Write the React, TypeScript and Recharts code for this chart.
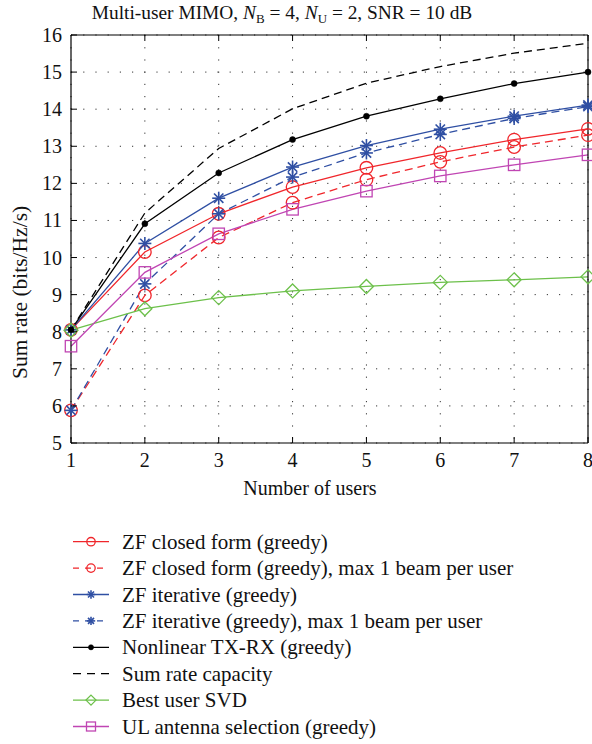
import React from "react";
import {
  LineChart,
  Line,
  XAxis,
  YAxis,
  CartesianGrid,
  Legend,
  Label,
} from "recharts";

// Number of users on the horizontal axis
const users = [1, 2, 3, 4, 5, 6, 7, 8];

// Sum rate (bits/Hz/s) per scheme
const zfClosed = [8.05, 10.15, 11.18, 11.9, 12.42, 12.82, 13.18, 13.47];
const zfClosedMax1 = [5.88, 8.98, 10.54, 11.48, 12.1, 12.58, 12.98, 13.3];
const zfIterative = [8.05, 10.38, 11.6, 12.44, 13.02, 13.46, 13.81, 14.11];
const zfIterativeMax1 = [5.88, 9.29, 11.18, 12.17, 12.82, 13.32, 13.75, 14.07];
const nonlinearTxRx = [8.05, 10.91, 12.28, 13.18, 13.81, 14.28, 14.69, 15.0];
const sumRateCapacity = [8.05, 11.2, 12.94, 14.01, 14.7, 15.15, 15.51, 15.78];
const bestUserSvd = [8.04, 8.62, 8.92, 9.1, 9.22, 9.33, 9.4, 9.48];
const ulAntennaSel = [7.61, 9.6, 10.64, 11.3, 11.79, 12.2, 12.5, 12.77];

const xTicks = [1, 2, 3, 4, 5, 6, 7, 8];
const yTicks = [5, 6, 7, 8, 9, 10, 11, 12, 13, 14, 15, 16];

const FONT = "'Liberation Serif', 'DejaVu Serif', serif";
const RED = "#f0262b";
const BLUE = "#2f4fa3";
const BLACK = "#000000";
const GREEN = "#6cc04a";
const MAGENTA = "#c045b3";

type MarkerKind = "circle" | "star" | "dot" | "none" | "diamond" | "square";

type SeriesDef = {
  key: string;
  name: string;
  values: number[];
  color: string;
  dashed: boolean;
  marker: MarkerKind;
};

const series: SeriesDef[] = [
  { key: "zfc", name: "ZF closed form (greedy)", values: zfClosed, color: RED, dashed: false, marker: "circle" },
  { key: "zfc1", name: "ZF closed form (greedy), max 1 beam per user", values: zfClosedMax1, color: RED, dashed: true, marker: "circle" },
  { key: "zfi", name: "ZF iterative (greedy)", values: zfIterative, color: BLUE, dashed: false, marker: "star" },
  { key: "zfi1", name: "ZF iterative (greedy), max 1 beam per user", values: zfIterativeMax1, color: BLUE, dashed: true, marker: "star" },
  { key: "nl", name: "Nonlinear TX-RX (greedy)", values: nonlinearTxRx, color: BLACK, dashed: false, marker: "dot" },
  { key: "cap", name: "Sum rate capacity", values: sumRateCapacity, color: BLACK, dashed: true, marker: "none" },
  { key: "svd", name: "Best user SVD", values: bestUserSvd, color: GREEN, dashed: false, marker: "diamond" },
  { key: "ul", name: "UL antenna selection (greedy)", values: ulAntennaSel, color: MAGENTA, dashed: false, marker: "square" },
];

const data = users.map((u, i) => {
  const row: Record<string, number> = { users: u };
  series.forEach((s) => {
    row[s.key] = s.values[i];
  });
  return row;
});

function Marker({ kind, cx, cy, color, size }: { kind: MarkerKind; cx: number; cy: number; color: string; size: number }) {
  const sw = 1.3;
  switch (kind) {
    case "circle":
      return <circle cx={cx} cy={cy} r={size} fill="none" stroke={color} strokeWidth={sw} />;
    case "star": {
      const d = size * 0.72;
      return (
        <g stroke={color} strokeWidth={1.6}>
          <line x1={cx - size} y1={cy} x2={cx + size} y2={cy} />
          <line x1={cx} y1={cy - size} x2={cx} y2={cy + size} />
          <line x1={cx - d} y1={cy - d} x2={cx + d} y2={cy + d} />
          <line x1={cx - d} y1={cy + d} x2={cx + d} y2={cy - d} />
        </g>
      );
    }
    case "dot":
      return <circle cx={cx} cy={cy} r={size} fill={color} stroke={color} strokeWidth={0.5} />;
    case "diamond":
      return (
        <polygon
          points={`${cx},${cy - size} ${cx + size},${cy} ${cx},${cy + size} ${cx - size},${cy}`}
          fill="none"
          stroke={color}
          strokeWidth={sw}
        />
      );
    case "square":
      return <rect x={cx - size} y={cy - size} width={size * 2} height={size * 2} fill="none" stroke={color} strokeWidth={sw} />;
    default:
      return null;
  }
}

const plotMarkerSize: Record<MarkerKind, number> = {
  circle: 6.3,
  star: 6.5,
  dot: 3,
  none: 0,
  diamond: 7,
  square: 5.7,
};

const legendMarkerSize: Record<MarkerKind, number> = {
  circle: 4.2,
  star: 4.2,
  dot: 2.6,
  none: 0,
  diamond: 5,
  square: 4.5,
};

function makeDot(s: SeriesDef) {
  if (s.marker === "none") return false;
  return (props: any) => {
    const { cx, cy, index } = props;
    return (
      <g key={`${s.key}-${index}`}>
        <Marker kind={s.marker} cx={cx} cy={cy} color={s.color} size={plotMarkerSize[s.marker]} />
      </g>
    );
  };
}

const tickStyle: React.CSSProperties = { fontFamily: FONT, fontSize: 20, fill: "#111" };
const yTitleStyle: React.CSSProperties = { fontFamily: FONT, fontSize: 21.5, fill: "#111" };
const legendStyle: React.CSSProperties = { fontFamily: FONT, fontSize: 21, fill: "#111" };

const BottomTick = (p: any) => (
  <g>
    <line x1={p.x} y1={p.y} x2={p.x} y2={p.y - 6} stroke="#000" strokeWidth={1} />
    <text x={p.x} y={p.y + 24} textAnchor="middle" style={tickStyle}>
      {p.payload.value}
    </text>
  </g>
);

const TopTick = (p: any) => (
  <line x1={p.x} y1={p.y} x2={p.x} y2={p.y + 6} stroke="#000" strokeWidth={1} />
);

const LeftTick = (p: any) => (
  <g>
    <line x1={p.x} y1={p.y} x2={p.x + 6} y2={p.y} stroke="#000" strokeWidth={1} />
    <text x={p.x - 9} y={p.y} textAnchor="end" dominantBaseline="central" style={tickStyle}>
      {p.payload.value}
    </text>
  </g>
);

const RightTick = (p: any) => (
  <line x1={p.x} y1={p.y} x2={p.x - 6} y2={p.y} stroke="#000" strokeWidth={1} />
);

const XTitle = () => (
  <text x={310} y={495} textAnchor="middle" style={tickStyle}>
    Number of users
  </text>
);

// rotated axis title, starting at the bottom and reading upwards
const YTitle = () => (
  <text x={27} y={379} textAnchor="start" transform="rotate(-90 27 379)" style={yTitleStyle}>
    Sum rate (bits/Hz/s)
  </text>
);

const LegendBox = () => (
  <svg width={592} height={216} style={{ display: "block" }}>
    {series.map((s, i) => {
      const y = 13.7 + i * 26.4;
      return (
        <g key={s.key}>
          <line
            x1={73}
            x2={109}
            y1={y}
            y2={y}
            stroke={s.color}
            strokeWidth={1.3}
            strokeDasharray={s.dashed ? (s.marker === "none" ? "8 6" : "6 6") : undefined}
          />
          <Marker kind={s.marker} cx={91} cy={y} color={s.color} size={legendMarkerSize[s.marker]} />
          <text x={122} y={y} dominantBaseline="central" style={legendStyle}>
            {s.name}
          </text>
        </g>
      );
    })}
  </svg>
);

const subStyle: React.CSSProperties = { fontSize: 13, position: "relative", top: 4 };

export default function App() {
  return (
    <div style={{ position: "absolute", left: 0, top: 0, width: 592, height: 744, background: "#fff" }}>
      <div
        style={{
          position: "absolute",
          left: 0,
          top: 0,
          width: 564,
          height: 26,
          lineHeight: "26px",
          textAlign: "center",
          fontFamily: FONT,
          fontSize: 19.4,
          color: "#111",
          whiteSpace: "nowrap",
        }}
      >
        Multi-user MIMO, <i>N</i>
        <span style={subStyle}>B</span> = 4, <i>N</i>
        <span style={subStyle}>U</span> = 2, SNR = 10 dB
      </div>
      <LineChart
        width={592}
        height={744}
        data={data}
        margin={{ top: 34, right: 3, bottom: 0, left: 0 }}
        style={{ position: "absolute", left: 0, top: 0 }}
      >
        <CartesianGrid stroke="#333" strokeWidth={1} strokeDasharray="1.2 11" />
        <XAxis
          dataKey="users"
          type="number"
          domain={[1, 8]}
          ticks={xTicks}
          interval={0}
          height={301}
          tickSize={0}
          tickMargin={0}
          tick={BottomTick}
          axisLine={{ stroke: "#000", strokeWidth: 1.2 }}
          tickLine={false}
        >
          <Label content={XTitle} />
        </XAxis>
        <XAxis
          xAxisId="top"
          orientation="top"
          type="number"
          domain={[1, 8]}
          ticks={xTicks}
          interval={0}
          height={1}
          tickSize={0}
          tickMargin={0}
          tick={TopTick}
          axisLine={{ stroke: "#000", strokeWidth: 1.2 }}
          tickLine={false}
        />
        <YAxis
          type="number"
          domain={[5, 16]}
          ticks={yTicks}
          interval={0}
          width={71}
          tickSize={0}
          tickMargin={0}
          tick={LeftTick}
          axisLine={{ stroke: "#000", strokeWidth: 1.2 }}
          tickLine={false}
        >
          <Label content={YTitle} />
        </YAxis>
        <YAxis
          yAxisId="right"
          orientation="right"
          type="number"
          domain={[5, 16]}
          ticks={yTicks}
          interval={0}
          width={1}
          tickSize={0}
          tickMargin={0}
          tick={RightTick}
          axisLine={{ stroke: "#000", strokeWidth: 1.2 }}
          tickLine={false}
        />
        {series.map((s) => (
          <Line
            key={s.key}
            dataKey={s.key}
            name={s.name}
            type="linear"
            stroke={s.color}
            strokeWidth={1.3}
            strokeDasharray={s.dashed ? "8 5" : undefined}
            dot={makeDot(s)}
            activeDot={false}
            isAnimationActive={false}
          />
        ))}
        <Legend
          layout="vertical"
          align="center"
          verticalAlign="middle"
          content={LegendBox}
          wrapperStyle={{ position: "absolute", left: 0, top: 528, width: 592, height: 216 }}
        />
      </LineChart>
    </div>
  );
}
